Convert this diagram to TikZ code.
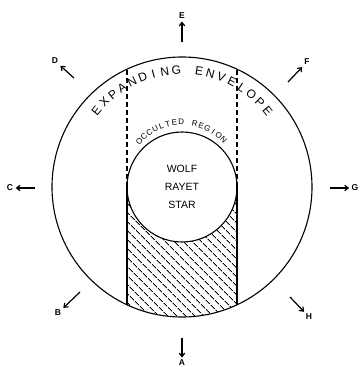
\documentclass[tikz,border=0pt]{standalone}
\usepackage{fontspec}
\setsansfont{Liberation Sans}
\usepackage{tikz}
\usetikzlibrary{arrows.meta,patterns.meta,calc}
\tikzset{>={Straight Barb[length=3.5pt,width=5.5pt]}}
\tikzset{
	dirlabel/.style={font=\sffamily\fontsize{8.5}{9}\selectfont\bfseries, inner sep=1pt},
	dirarrow/.style={->, line width=1.2pt, shorten >=1pt},
	arcletter/.style={font=\sffamily\fontsize{#1}{#1}\selectfont, inner sep=0pt}
}

\begin{document}
\begin{tikzpicture}[x=1pt, y=1pt, line width=1.1pt]
	\useasboundingbox (0,0) rectangle (360,367);
	\coordinate (M) at (182,180);

	% occulted part behind the star
	\fill[pattern={Lines[angle=-45,distance=6.5pt,line width=0.9pt]}] (127,62.2) arc (245:295:130) -- (237,180) arc (0:-180:55) -- cycle;

	\draw (M) circle (130);
	\draw (M) circle (55);
	\draw (127,62.2) -- (127,180);
	\draw (237,62.2) -- (237,180);
	\draw[dash pattern=on 5pt off 3pt] (127,180) -- (127,297.8);
	\draw[dash pattern=on 5pt off 3pt] (237,180) -- (237,297.8);

	\node[font=\sffamily\fontsize{10.5}{18}\selectfont, align=center] (star) at (182,180) {WOLF\\RAYET\\STAR};

	\foreach \ch [count=\i from 0] in {E,X,P,A,N,D,I,N,G,{},E,N,V,E,L,O,P,E}
		\node[arcletter=12, rotate=141-6*\i-90] at ($(182,187)+(141-6*\i:110)$) {\ch};
	\foreach \ch [count=\i from 0] in {O,C,C,U,L,T,E,D,{},R,E,G,I,O,N}
		\node[arcletter=8, rotate=138.6-6.83*\i-90] at ($(182,188)+(138.6-6.83*\i:57)$) {\ch};

	% directions
	\node[dirlabel] (A) at (182,4) {A};
	\node[dirlabel] (B) at (58,54) {B};
	\node[dirlabel] (C) at (10,179) {C};
	\node[dirlabel] (D) at (55,306) {D};
	\node[dirlabel] (E) at (182,351) {E};
	\node[dirlabel] (F) at (307,305) {F};
	\node[dirlabel] (G) at (355,179) {G};
	\node[dirlabel] (H) at (309,50) {H};
	\coordinate (a) at (182,29);
	\coordinate (b) at (80,75);
	\coordinate (c) at (35,179);
	\coordinate (d) at (74,289);
	\coordinate (e) at (182,325);
	\coordinate (f) at (288,285);
	\coordinate (g) at (330,179);
	\coordinate (h) at (290,70);
	\draw[dirarrow] (a) -- (A);
	\draw[dirarrow] (b) -- (B);
	\draw[dirarrow] (c) -- (C);
	\draw[dirarrow] (d) -- (D);
	\draw[dirarrow] (e) -- (E);
	\draw[dirarrow] (f) -- (F);
	\draw[dirarrow] (g) -- (G);
	\draw[dirarrow] (h) -- (H);
\end{tikzpicture}
\end{document}
